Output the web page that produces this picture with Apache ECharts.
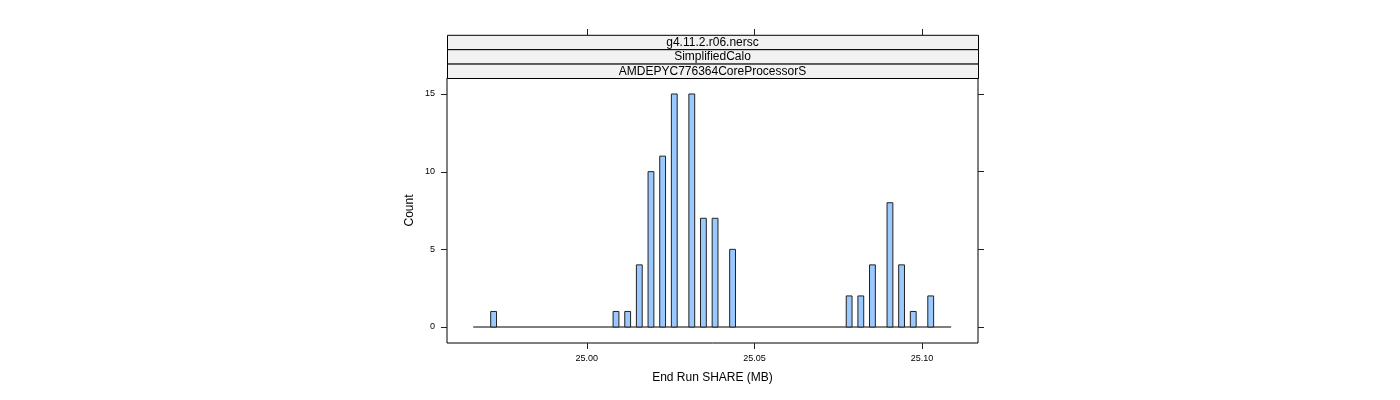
<!DOCTYPE html>
<html>
<head>
<meta charset="utf-8">
<script src="https://cdn.jsdelivr.net/npm/echarts@6/dist/echarts.min.js"></script>
<style>html,body{margin:0;padding:0;background:#fff}#c{width:1400px;height:400px}</style>
</head>
<body>
<div id="c"></div>
<script>
// Histogram bin centres (End Run SHARE, MB) and counts
var binCenters = [24.97221, 25.00871, 25.01219, 25.01566, 25.01914, 25.02262, 25.02609,
  25.03131, 25.03478, 25.03826, 25.04348, 25.07824, 25.08172, 25.08519, 25.09041,
  25.09388, 25.09736, 25.10257];
var counts = [1, 1, 1, 4, 10, 11, 15, 15, 7, 7, 5, 2, 2, 4, 8, 4, 1, 2];
var binWidth = 0.0017382;
var binRange = [24.96613, 25.10866];
var xTicks = [25.00, 25.05, 25.10];
var yTicks = [0, 5, 10, 15];
var stripLabels = ['g4.11.2.r06.nersc', 'SimplifiedCalo', 'AMDEPYC776364CoreProcessorS'];
var xTitle = 'End Run SHARE (MB)';
var yTitle = 'Count';

var font = "'Liberation Sans', Arial, sans-serif";
var G = {left: 447, top: 78, width: 531, height: 265};
var stripH = 14.4;
var XMIN = 24.95831, XMAX = 25.11667, YMIN = -1.03, YMAX = 16.03;
var TICK = 6;

var chart = echarts.init(document.getElementById('c'));
var bars = binCenters.map(function (x, i) { return [x, counts[i]]; });

var graphics = [];
stripLabels.forEach(function (t, i) {
  graphics.push({
    type: 'rect', z: 10,
    shape: {x: G.left + 0.5, y: G.top - stripH * (stripLabels.length - i) + 0.5, width: G.width, height: stripH},
    style: {fill: '#f2f2f2', stroke: '#000', lineWidth: 1}
  });
  graphics.push({
    type: 'text', z: 11,
    x: G.left + G.width / 2, y: G.top - stripH * (stripLabels.length - i) + stripH / 2 + 0.5,
    style: {text: t, fill: '#000', font: '12px ' + font, align: 'center', verticalAlign: 'middle'}
  });
});

var tickStyle = {color: '#222', width: 1};
function tickAxis(pos, gi, min, max, ticks, offset) {
  return {
    type: 'value', gridIndex: gi, position: pos, offset: offset || 0, min: min, max: max,
    axisLine: {show: false, onZero: false}, splitLine: {show: false},
    axisTick: {show: true, inside: false, length: TICK, lineStyle: tickStyle, customValues: ticks},
    axisLabel: {show: false}
  };
}
var gridBox = {left: G.left, top: G.top, width: G.width, height: G.height};
chart.setOption({
  animation: false,
  grid: [
    Object.assign({show: true, borderColor: '#000', borderWidth: 1, backgroundColor: 'transparent'}, gridBox),
    Object.assign({show: false}, gridBox)
  ],
  graphic: graphics,
  xAxis: [{
    type: 'value', gridIndex: 0, position: 'bottom', min: XMIN, max: XMAX,
    axisLine: {show: false, onZero: false}, splitLine: {show: false},
    axisTick: {show: false},
    axisLabel: {customValues: xTicks, fontSize: 9, fontFamily: font, color: '#000', margin: 11,
      formatter: function (v) { return v.toFixed(2); }},
    name: xTitle, nameLocation: 'middle', nameGap: 29,
    nameTextStyle: {fontSize: 12, fontFamily: font, color: '#000'}
  },
    tickAxis('top', 1, XMIN, XMAX, xTicks, 43)
  ],
  yAxis: [{
    type: 'value', gridIndex: 0, position: 'left', min: YMIN, max: YMAX,
    axisLine: {show: false, onZero: false}, splitLine: {show: false},
    axisTick: {show: false},
    axisLabel: {customValues: yTicks, fontSize: 9, fontFamily: font, color: '#000', margin: 12},
    name: yTitle, nameLocation: 'middle', nameGap: 31,
    nameTextStyle: {fontSize: 12, fontFamily: font, color: '#000'}
  },
    tickAxis('right', 1, YMIN, YMAX, yTicks, 0)
  ],
  series: [{
    type: 'line', xAxisIndex: 0, yAxisIndex: 0, symbol: 'none', silent: true,
    data: [[binRange[0], 0], [binRange[1], 0]],
    lineStyle: {color: '#000', width: 1}, z: 2
  }, {
    type: 'custom', xAxisIndex: 0, yAxisIndex: 0, z: 3,
    data: bars,
    renderItem: function (params, api) {
      var x = api.value(0), c = api.value(1);
      var p0 = api.coord([x - binWidth / 2, 0]);
      var p1 = api.coord([x + binWidth / 2, c]);
      return {
        type: 'rect',
        shape: {x: p0[0], y: p1[1], width: p1[0] - p0[0], height: p0[1] - p1[1]},
        style: {fill: '#99c9ff', stroke: '#222', lineWidth: 1}
      };
    }
  }, {
    // bottom axis ticks, placed through the x scale
    type: 'custom', xAxisIndex: 0, yAxisIndex: 0, z: 20, silent: true, clip: false,
    data: xTicks.map(function (v) { return [v, YMIN]; }),
    renderItem: function (params, api) {
      var p = api.coord([api.value(0), api.value(1)]);
      var x = Math.round(p[0]) + 0.5, y = Math.round(p[1]);
      return {type: 'line', shape: {x1: x, y1: y, x2: x, y2: y + TICK},
        style: {stroke: '#222', lineWidth: 1}};
    }
  }, {
    // left axis ticks, placed through the y scale
    type: 'custom', xAxisIndex: 0, yAxisIndex: 0, z: 20, silent: true, clip: false,
    data: yTicks.map(function (v) { return [XMIN, v]; }),
    renderItem: function (params, api) {
      var p = api.coord([api.value(0), api.value(1)]);
      var x = Math.round(p[0]), y = Math.round(p[1]) + 0.5;
      return {type: 'line', shape: {x1: x, y1: y, x2: x - TICK, y2: y},
        style: {stroke: '#222', lineWidth: 1}};
    }
  }]
});
</script>
</body>
</html>
